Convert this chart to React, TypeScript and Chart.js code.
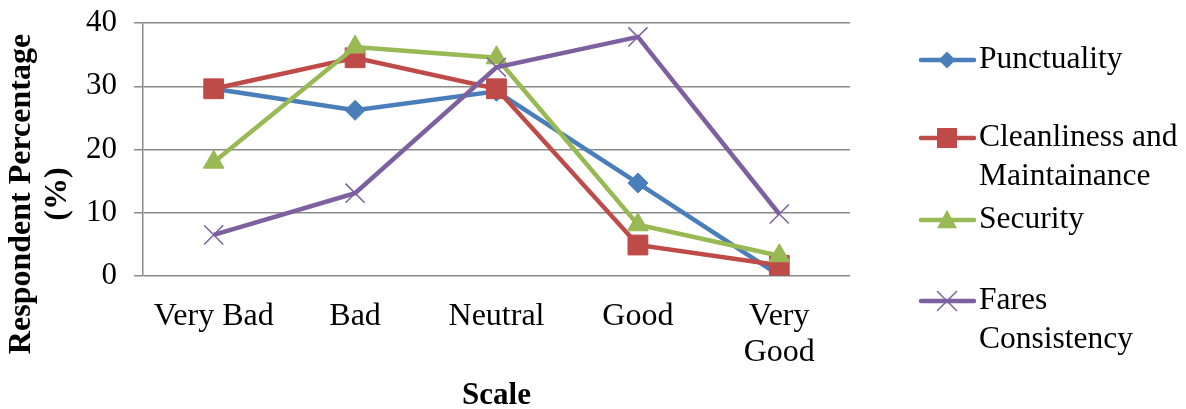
import React, { useEffect, useRef } from "react";
import { Chart, registerables } from "chart.js";

Chart.register(...registerables);

const categories: (string | string[])[] = ["Very Bad", "Bad", "Neutral", "Good", ["Very", "Good"]];
const yTicks = [0, 10, 20, 30, 40];

const seriesNames = ["Punctuality", "Cleanliness and Maintainance", "Security", "Fares Consistency"];
const legendLines = [["Punctuality"], ["Cleanliness and", "Maintainance"], ["Security"], ["Fares", "Consistency"]];

const punctuality = [29.6, 26.2, 29.2, 14.7, 0.1];
const cleanliness = [29.6, 34.5, 29.6, 4.9, 1.7];
const security = [18.0, 36.2, 34.5, 8.1, 3.2];
const fares = [6.5, 13.1, 33.0, 37.8, 9.8];

const colors = ["#4A7EBB", "#BE4B48", "#98B954", "#7D60A0"];
const pointStyles = ["rectRot", "rect", "triangle", "crossRot"];
const pointRadii = [10, 14, 12, 13.5];

const FONT = "'Liberation Serif', 'Times New Roman', serif";
const GRID = "#8A8A8A";

const legendRowY = [60, 138, 220, 301];

function drawMarker(ctx: CanvasRenderingContext2D, style: string, x: number, y: number, r: number, color: string) {
  ctx.save();
  ctx.fillStyle = color;
  ctx.strokeStyle = color;
  ctx.beginPath();
  if (style === "rectRot") {
    ctx.moveTo(x, y - r);
    ctx.lineTo(x + r, y);
    ctx.lineTo(x, y + r);
    ctx.lineTo(x - r, y);
    ctx.closePath();
    ctx.fill();
  } else if (style === "rect") {
    ctx.rect(x - r, y - r, 2 * r, 2 * r);
    ctx.fill();
  } else if (style === "triangle") {
    const h = r * 1.5;
    ctx.moveTo(x, y - h / 2 - 2);
    ctx.lineTo(x + r * 0.9, y + h / 2);
    ctx.lineTo(x - r * 0.9, y + h / 2);
    ctx.closePath();
    ctx.fill();
  } else {
    ctx.lineWidth = 1.5;
    ctx.moveTo(x - r, y - r);
    ctx.lineTo(x + r, y + r);
    ctx.moveTo(x + r, y - r);
    ctx.lineTo(x - r, y + r);
    ctx.stroke();
  }
  ctx.restore();
}

const sideLegend = {
  id: "sideLegend",
  afterDraw(chart: any) {
    const ctx: CanvasRenderingContext2D = chart.ctx;
    ctx.save();
    chart.data.datasets.forEach((ds: any, i: number) => {
      const y = legendRowY[i];
      ctx.strokeStyle = ds.borderColor;
      ctx.lineWidth = 4.5;
      ctx.lineCap = "round";
      ctx.beginPath();
      ctx.moveTo(921, y);
      ctx.lineTo(974, y);
      ctx.stroke();
      const mr = [8.5, 10, 11, 9.5][i];
      drawMarker(ctx, pointStyles[i], 947, y, mr, ds.borderColor);
      ctx.fillStyle = "#000";
      ctx.font = `31.5px ${FONT}`;
      ctx.textAlign = "left";
      ctx.textBaseline = "middle";
      legendLines[i].forEach((t, j) => ctx.fillText(t, 979, y + j * 39));
    });
    // y-axis title
    ctx.save();
    ctx.translate(22, 194);
    ctx.rotate(-Math.PI / 2);
    ctx.font = `bold 32px ${FONT}`;
    ctx.fillStyle = "#000";
    ctx.textAlign = "center";
    ctx.textBaseline = "middle";
    ctx.fillText("Respondent Percentage", 0, 0);
    ctx.fillText("(%)", 0, 36);
    ctx.restore();
    ctx.restore();
  },
};

export default function App() {
  const ref = useRef<HTMLCanvasElement>(null);
  useEffect(() => {
    if (!ref.current) return;
    const data = [punctuality, cleanliness, security, fares];
    const chart = new Chart(ref.current, {
      type: "line",
      data: {
        labels: categories,
        datasets: data.map((d, i) => ({
          label: seriesNames[i],
          data: d,
          borderColor: colors[i],
          backgroundColor: colors[i],
          pointBackgroundColor: colors[i],
          pointBorderColor: colors[i],
          pointBorderWidth: i === 3 ? 1.5 : 1,
          pointStyle: pointStyles[i] as any,
          pointRadius: pointRadii[i],
          pointHoverRadius: pointRadii[i],
          borderWidth: 4.5,
          tension: 0,
          fill: false,
          order: 3 - i,
        })),
      },
      options: {
        animation: false,
        responsive: false,
        devicePixelRatio: 1,
        layout: { padding: { left: 80, right: 336, top: 23, bottom: 0 } },
        plugins: {
          legend: { display: false },
          tooltip: { enabled: false },
        },
        scales: {
          x: {
            offset: true,
            grid: { display: false, drawTicks: false, offset: true },
            border: { display: false },
            ticks: {
              color: "#000",
              font: { family: FONT, size: 32, lineHeight: 1.125 },
              padding: 23,
              maxRotation: 0,
              autoSkip: false,
            },
            title: {
              display: true,
              text: "Scale",
              color: "#000",
              font: { family: FONT, size: 31, weight: "bold", lineHeight: 0.85 },
              padding: { top: 0, bottom: 0 },
            },
            afterFit(scale: any) {
              scale.height = 133;
              scale.paddingLeft = 0;
              scale.paddingRight = 0;
            },
          },
          y: {
            min: 0,
            max: 40,
            grid: { color: GRID, lineWidth: 1.5, tickLength: 9, drawTicks: true },
            border: { display: true, color: GRID, width: 1.5 },
            ticks: {
              stepSize: 10,
              color: "#000",
              font: { family: FONT, size: 31 },
              padding: 17,
              callback: (v: any) => (yTicks.includes(Number(v)) ? String(v) : ""),
            },
            afterFit(scale: any) {
              scale.width = 63;
              scale.paddingTop = 0;
              scale.paddingBottom = 0;
            },
          },
        },
      },
      plugins: [sideLegend],
    });
    return () => chart.destroy();
  }, []);
  return (
    <div style={{ position: "absolute", left: 0, top: 0, width: 1186, height: 409, background: "#fff" }}>
      <canvas ref={ref} width={1186} height={409} />
    </div>
  );
}
